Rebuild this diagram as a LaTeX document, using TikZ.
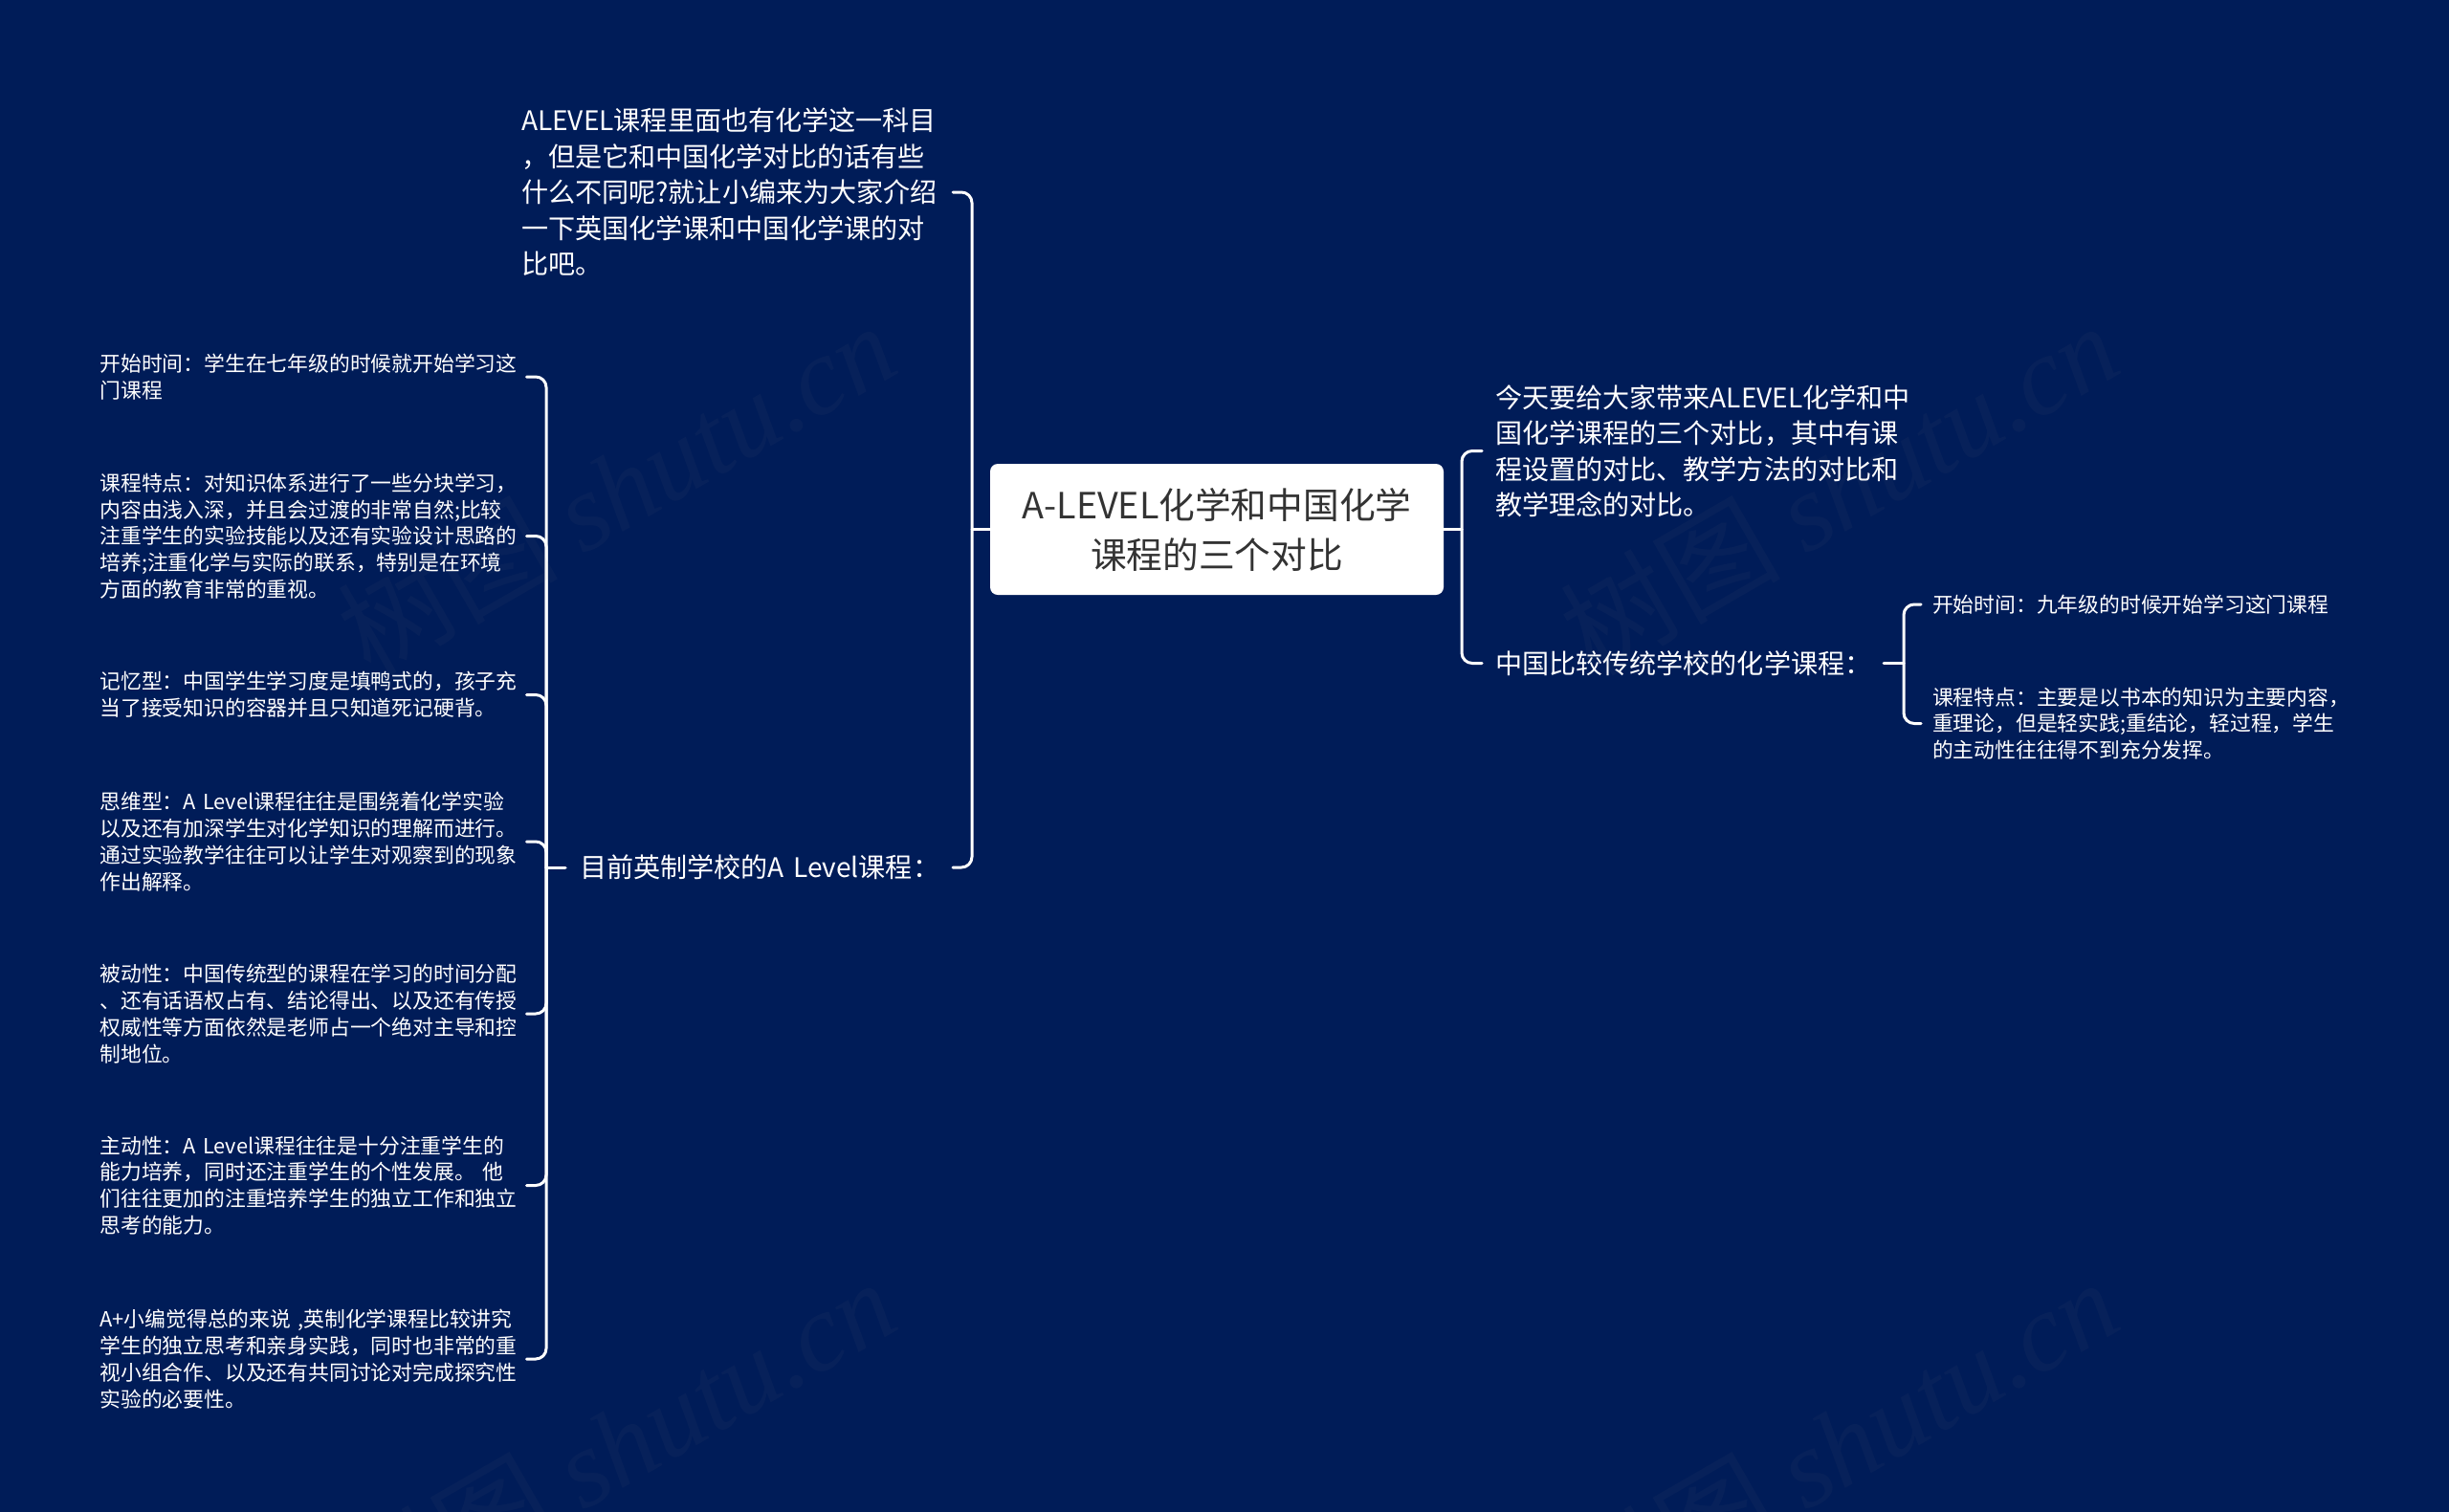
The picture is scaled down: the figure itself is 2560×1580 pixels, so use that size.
\documentclass[tikz,border=0pt]{standalone}
\usepackage{fontspec}
\setmainfont{Noto Sans CJK SC}
\newfontfamily\wmlatin{Liberation Serif}
\definecolor{bgnavy}{HTML}{001C58}
\definecolor{roottext}{HTML}{333333}
\tikzset{
  basetext/.style={text=white,align=left,inner ysep=0pt,outer sep=0pt},
  leaf/.style={basetext,text width=434pt,inner xsep=12pt,font=\fontsize{21.8}{27.8}\selectfont},
  topic/.style={basetext,inner xsep=14pt,font=\fontsize{28.1}{37.5}\selectfont},
  rootbox/.style={fill=white,rounded corners=8pt,minimum width=474pt,minimum height=137pt,inner sep=0pt,outer sep=0pt,align=center,text=roottext,font=\fontsize{37.7}{52}\selectfont},
  conn/.style={draw=white,line width=3pt,rounded corners=11pt,line cap=round},
  wmark/.style={text=gray,opacity=.06,text opacity=.06,rotate=30,font=\fontsize{115}{125}\selectfont}
}
\begin{document}
\begin{tikzpicture}[x=1pt,y=-1pt]
\useasboundingbox (0,0) rectangle (2560,1580);
\fill[bgnavy] (-5,-5) rectangle (2565,1585);
% root
\node[rootbox] (root) at (1272,553.5) {A-LEVEL化学和中国化学\\课程的三个对比};
% topics
\node[topic,text width=434pt,inner xsep=17pt] (intro) at (762,201) {ALEVEL课程里面也有化学这一科目\\，但是它和中国化学对比的话有些\\什么不同呢?就让小编来为大家介绍\\一下英国化学课和中国化学课的对\\比吧。};
\node[topic,text width=375pt,inner xsep=15pt] (uk) at (793.5,907) {\mbox{目前英制学校的A Level课程：}};
\node[topic,text width=434pt] (today) at (1780,471.5) {今天要给大家带来ALEVEL化学和中\\国化学课程的三个对比，其中有课\\程设置的对比、教学方法的对比和\\教学理念的对比。};
\node[topic,text width=392pt] (cn) at (1759,693.5) {\mbox{中国比较传统学校的化学课程：}};
% left leaves
\node[leaf] (l1) at (321.5,394) {开始时间：学生在七年级的时候就开始学习这\\门课程};
\node[leaf] (l2) at (321.5,560.5) {课程特点：对知识体系进行了一些分块学习，\\内容由浅入深，并且会过渡的非常自然;比较\\注重学生的实验技能以及还有实验设计思路的\\培养;注重化学与实际的联系，特别是在环境\\方面的教育非常的重视。};
\node[leaf] (l3) at (321.5,726.5) {记忆型：中国学生学习度是填鸭式的，孩子充\\当了接受知识的容器并且只知道死记硬背。};
\node[leaf] (l4) at (321.5,880) {思维型：\mbox{A Level课程往往是围绕着化学实验}\\以及还有加深学生对化学知识的理解而进行。\\通过实验教学往往可以让学生对观察到的现象\\作出解释。};
\node[leaf] (l5) at (321.5,1060) {被动性：中国传统型的课程在学习的时间分配\\、还有话语权占有、结论得出、以及还有传授\\权威性等方面依然是老师占一个绝对主导和控\\制地位。};
\node[leaf] (l6) at (321.5,1239.5) {主动性：\mbox{A Level课程往往是十分注重学生的}\\能力培养，同时还注重学生的个性发展。~他\\们往往更加的注重培养学生的独立工作和独立\\思考的能力。};
\node[leaf] (l7) at (321.5,1421) {A+小编觉得总的来说~,英制化学课程比较讲究\\学生的独立思考和亲身实践，同时也非常的重\\视小组合作、以及还有共同讨论对完成探究性\\实验的必要性。};
% right leaves
\node[leaf] (r1) at (2237,632) {开始时间：九年级的时候开始学习这门课程};
\node[leaf] (r2) at (2237,756.5) {课程特点：主要是以书本的知识为主要内容，\\重理论，但是轻实践;重结论，轻过程，学生\\的主动性往往得不到充分发挥。};
% junctions
\coordinate (jmain) at (1016,553.5);
\coordinate (jright) at (1528,553.5);
\coordinate (jleaf) at (571,907);
\coordinate (jcn) at (1990,693.5);
% connectors
\draw[conn] (root.west) -- (jmain);
\draw[conn] (intro.east) -| (jmain) |- (uk.east);
\draw[conn] (root.east) -- (jright);
\draw[conn] (today.west) -| (jright) |- (cn.west);
\draw[conn] (uk.west) -- (jleaf);
\draw[conn] (l1.east) -| (jleaf) |- (l7.east);
\foreach \n in {l2,l3,l4,l5,l6} \draw[conn] (\n.east) -| (jleaf);
\draw[conn] (cn.east) -- (jcn);
\draw[conn] (r1.west) -| (jcn) |- (r2.west);
% watermarks
\begin{scope}
\clip (0,0) rectangle (2560,1580);
\node[wmark] (w1) at (644,510) {树图 {\wmlatin\itshape shutu.cn}};
\node[wmark] (w2) at (1922,510) {树图 {\wmlatin\itshape shutu.cn}};
\node[wmark] (w3) at (644,1510) {树图 {\wmlatin\itshape shutu.cn}};
\node[wmark] (w4) at (1922,1510) {树图 {\wmlatin\itshape shutu.cn}};
\end{scope}
\end{tikzpicture}
\end{document}
